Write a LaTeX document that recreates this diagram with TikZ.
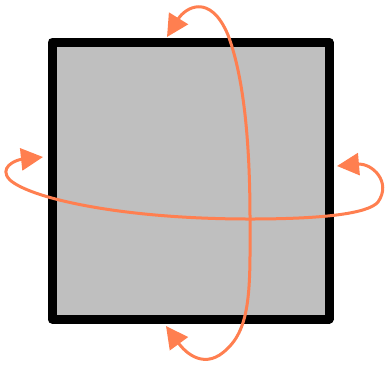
\documentclass[tikz,border=0pt]{standalone}
\usetikzlibrary{arrows.meta}
\definecolor{cur}{HTML}{FF7F50}
\definecolor{fillg}{HTML}{BFBFBF}
\begin{document}
\begin{tikzpicture}[x=1pt,y=-1pt,
  box/.style={draw=black,fill=fillg,line width=9pt,line join=round},
  loop/.style={draw=cur,line width=3pt,{Triangle[length=22pt,width=22pt]}-{Triangle[length=22pt,width=22pt]}}]
\useasboundingbox (0,0) rectangle (387,368);
\draw[box] (52,42) rectangle (329,319);
\coordinate (tt) at (167,37);
\coordinate (bt) at (166,326);
\coordinate (lt) at (43,157);
\coordinate (rt) at (337,166);
\coordinate (x) at (250,219);
\draw[loop] (tt) .. controls (185,8) and (210,-8) .. (228,35)
  .. controls (245,80) and (250,150) .. (x)
  .. controls (250,280) and (252,325) .. (228,348)
  .. controls (205,372) and (185,352) .. (bt);
\draw[loop] (lt) .. controls (15,160) and (-2,168) .. (10,180)
  .. controls (30,198) and (120,219) .. (x)
  .. controls (320,219) and (368,214) .. (378,202)
  .. controls (392,182) and (372,163) .. (rt);
\end{tikzpicture}
\end{document}
